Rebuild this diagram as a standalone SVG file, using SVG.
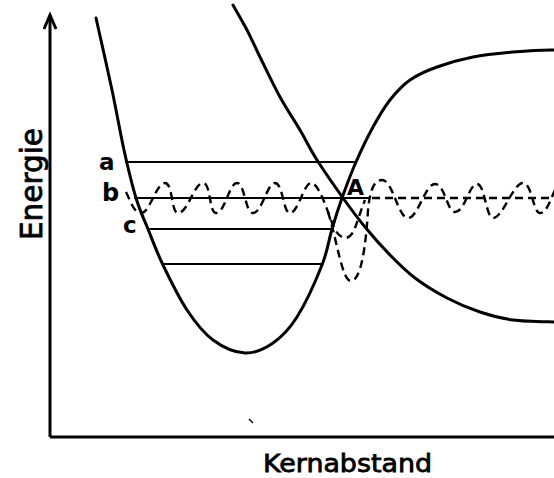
<svg xmlns="http://www.w3.org/2000/svg" width="554" height="478" viewBox="0 0 554 478">
<style>
.curve{fill:none;stroke:#000;stroke-width:3;stroke-linecap:round;stroke-linejoin:round}
.level{fill:none;stroke:#000;stroke-width:1.8}
.wave{fill:none;stroke:#000;stroke-width:2.4;stroke-dasharray:8 5}
.axis{fill:none;stroke:#000;stroke-width:3}
.lbl{font-family:"DejaVu Sans","Liberation Sans",sans-serif;fill:#000;stroke:#000;stroke-width:0.8}
.lt{font-family:"DejaVu Sans","Liberation Sans",sans-serif;fill:#000;font-weight:bold}
</style>
<rect width="554" height="478" fill="#fff"/>
<g id="axes">
<path class="axis" d="M50,437 V17 M50,437 H554"/>
<path class="axis" d="M44,29 L50,15 L56,29" stroke-linejoin="miter"/>
<text class="lbl" transform="translate(42,240) rotate(-90)" font-size="30" textLength="112" lengthAdjust="spacingAndGlyphs">Energie</text>
<text class="lbl" x="263" y="472" font-size="25" textLength="169" lengthAdjust="spacingAndGlyphs">Kernabstand</text>
<path d="M249,419 L253,423" stroke="#000" stroke-width="1.5"/>
</g>
<g id="bound-curve">
<path class="curve" d="M96,18 C98.7,30 107.3,68 112,90 C116.7,112 120,132 124,150 C128,168 132,184.8 136,198 C140,211.2 143.5,217.8 148,229 C152.5,240.2 156.5,251.5 163,265 C169.5,278.5 178.7,297.5 187,310 C195.3,322.5 203.3,332.8 213,340 C222.7,347.2 235,352.5 245,353 C255,353.5 264.3,349 273,343 C281.7,337 288.8,330 297,317 C305.2,304 316.2,279.7 322,265 C327.8,250.3 328.7,240.2 332,229 C335.3,217.8 338,209.2 342,198 C346,186.8 350.8,173.8 356,162 C361.2,150.2 367.3,137.3 373,127 C378.7,116.7 383.8,107.8 390,100 C396.2,92.2 402.2,85.5 410,80 C417.8,74.5 426.5,70.8 437,67 C447.5,63.2 460.3,59.5 473,57 C485.7,54.5 499.5,53.2 513,52 C526.5,50.8 547.2,49.7 556,50"/>
</g>
<g id="repulsive-curve">
<path class="curve" d="M233,5 C235.3,9.2 242.5,21.3 247,30 C251.5,38.7 254.5,45.8 260,57 C265.5,68.2 273.3,84.8 280,97 C286.7,109.2 293.8,119.5 300,130 C306.2,140.5 309.8,148.7 317,160 C324.2,171.3 335,186.8 343,198 C351,209.2 357.2,217.5 365,227 C372.8,236.5 381.7,246.5 390,255 C398.3,263.5 405.5,270.8 415,278 C424.5,285.2 436.2,292.3 447,298 C457.8,303.7 469,308.3 480,312 C491,315.7 500.7,318.3 513,320 C525.3,321.7 547.2,321.7 556,322"/>
</g>
<g id="levels">
<line class="level" x1="125" y1="162" x2="356" y2="162"/>
<line class="level" x1="134" y1="198" x2="370" y2="198"/>
<line class="level" x1="147" y1="229" x2="332" y2="229"/>
<line class="level" x1="162" y1="264" x2="322" y2="264"/>
<line class="wave" x1="372" y1="198" x2="554" y2="198" stroke-dasharray="13 10"/>
</g>
<g id="waves">
<path class="wave" d="M126,192 C131,202 134,213 141,213 C150,213 156,183 165,183 C173,183 171,213 178,213 C188,213 194,183 203,183 C211,183 209,213 216,213 C225,213 229,183 237,183 C245,183 245,213 253,213 C262,213 267,183 275,183 C283,183 283,213 290,213 C298,213 304,183 311,183 C319,183 327,210 334,228 C339,238 349,244 355,228 C358,220 361,210 365,200"/>
<path class="wave" d="M328,212 C337,240 342,281 351,281 C361,281 366,245 368,210 C370,190 374,180 382,180 C393,180 398,218 408,218 C418,218 425,184 435,184 C445,184 447,212 455,212 C465,212 469,184 477,184 C485,184 486,218 493,218 C503,218 513,183 523,183 C532,183 533,213 540,213 C547,213 550,200 556,188"/>
</g>
<g id="labels">
<text class="lt" x="99" y="170" font-size="23">a</text>
<text class="lt" x="102" y="201" font-size="24">b</text>
<text class="lt" x="123" y="233" font-size="23">c</text>
<text class="lt" x="347" y="195" font-size="22">A</text>
</g>
</svg>
